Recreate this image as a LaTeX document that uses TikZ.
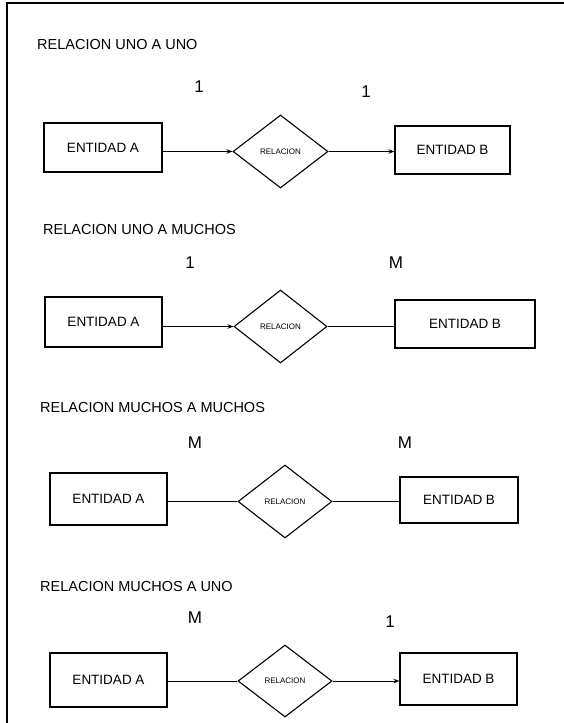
\documentclass[tikz,border=0pt]{standalone}
\usepackage{fontspec}
\setmainfont{Liberation Sans}
\usetikzlibrary{shapes.geometric,arrows.meta}
\begin{document}
\begin{tikzpicture}[x=1pt,y=-1pt,
  entbox/.style={draw,line width=1.1pt,inner sep=0pt,font=\fontsize{13.5}{15}\selectfont},
  relbox/.style={draw,diamond,line width=1.1pt,inner sep=0pt,aspect=1.3,font=\fontsize{8}{9}\selectfont},
  ttl/.style={anchor=west,inner sep=0pt,font=\fontsize{14.5}{16}\selectfont},
  card/.style={inner sep=0pt,font=\fontsize{17}{18}\selectfont},
  conn/.style={line width=1pt},
  arr/.style={conn,-{Stealth[length=6pt,width=4.5pt]}}]
\useasboundingbox (0,0) rectangle (564,723);
% frame
\coordinate (ftr) at (564,3);
\coordinate (ftl) at (7,3);
\coordinate (fbl) at (7,723);
\draw[line width=1.5pt] (ftr) -- (ftl) -- (fbl);

% section 1
\node[ttl] (t1) at (37,45) {RELACION UNO A UNO};
\node[card] (c1a) at (199,87) {1};
\node[card] (c1b) at (366,92) {1};
\node[entbox,minimum width=118pt,minimum height=49pt] (A1) at (103,147.5) {ENTIDAD A};
\node[relbox,minimum width=95pt,minimum height=73pt] (R1) at (280.5,151.5) {RELACION};
\node[entbox,minimum width=115pt,minimum height=48pt] (B1) at (452.5,150) {ENTIDAD B};
\draw[arr] (A1.east |- R1.west) -- (R1.west);
\draw[arr] (R1.east) -- (R1.east -| B1.west);

% section 2
\node[ttl] (t2) at (43,230) {RELACION UNO A MUCHOS};
\node[card] (c2a) at (190,263) {1};
\node[card] (c2b) at (396,263) {M};
\node[entbox,minimum width=117pt,minimum height=50pt] (A2) at (103.5,322) {ENTIDAD A};
\node[relbox,minimum width=93pt,minimum height=73pt] (R2) at (280.5,326.5) {RELACION};
\node[entbox,minimum width=140pt,minimum height=48pt] (B2) at (465,324) {ENTIDAD B};
\draw[arr] (A2.east |- R2.west) -- (R2.west);
\draw[conn] (R2.east) -- (R2.east -| B2.west);

% section 3
\node[ttl] (t3) at (40,408) {RELACION MUCHOS A MUCHOS};
\node[card] (c3a) at (195,443) {M};
\node[card] (c3b) at (405,443) {M};
\node[entbox,minimum width=117pt,minimum height=52pt] (A3) at (108.5,499) {ENTIDAD A};
\node[relbox,minimum width=94pt,minimum height=73pt] (R3) at (285,501.5) {RELACION};
\node[entbox,minimum width=118pt,minimum height=46pt] (B3) at (459,500) {ENTIDAD B};
\draw[conn] (A3.east |- R3.west) -- (R3.west);
\draw[conn] (R3.east) -- (R3.east -| B3.west);

% section 4
\node[ttl] (t4) at (40,587) {RELACION MUCHOS A UNO};
\node[card] (c4a) at (195,618) {M};
\node[card] (c4b) at (390,622) {1};
\node[entbox,minimum width=117pt,minimum height=54pt] (A4) at (108.5,680) {ENTIDAD A};
\node[relbox,minimum width=94pt,minimum height=72pt] (R4) at (285,681) {RELACION};
\node[entbox,minimum width=117pt,minimum height=52pt] (B4) at (458.5,679) {ENTIDAD B};
\draw[conn] (A4.east |- R4.west) -- (R4.west);
\draw[arr] (R4.east) -- (R4.east -| B4.west);
\end{tikzpicture}
\end{document}
